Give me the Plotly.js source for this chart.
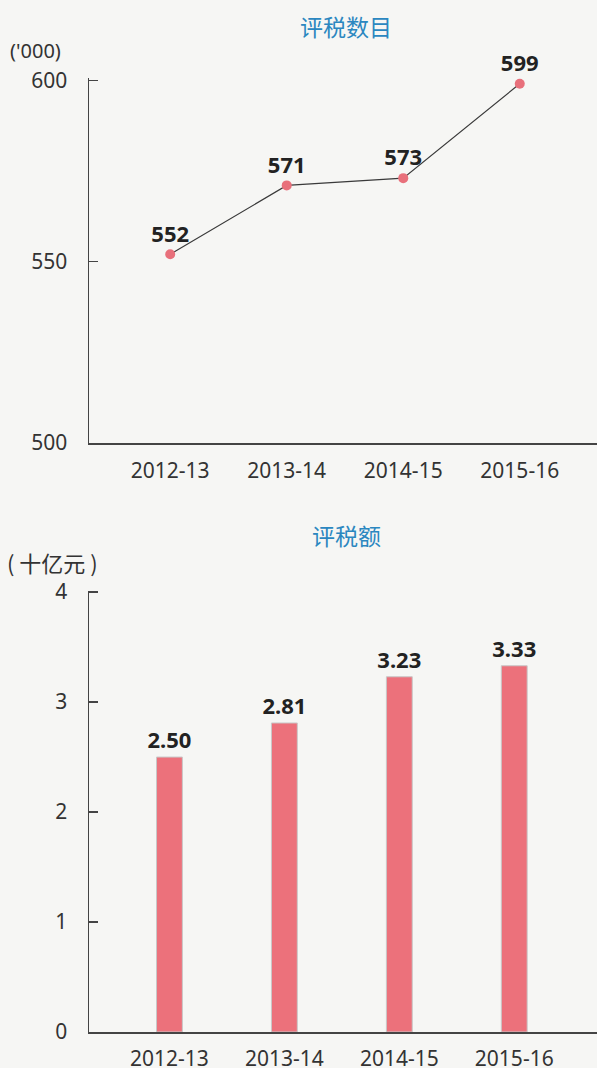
<!DOCTYPE html>
<html>
<head>
<meta charset="utf-8">
<script src="https://cdn.plot.ly/plotly-3.0.1.min.js"></script>
<style>html,body{margin:0;padding:0;background:#f6f6f4;}#chart{width:597px;height:1068px;}</style>
</head>
<body>
<div id="chart"></div>
<script>
const years = ["2012-13", "2013-14", "2014-15", "2015-16"];
const assessmentCount = [552, 571, 573, 599];   // '000
const assessedAmount = [2.50, 2.81, 3.23, 3.33]; // HK$ billion
const countLabels = ["552", "571", "573", "599"];
const amountLabels = ["2.50", "2.81", "3.23", "3.33"];

const W = 597, H = 1068;
const fontNum = "Noto Sans, Open Sans, sans-serif";
const fontCJK = "Noto Sans CJK SC, Noto Sans CJK TC, sans-serif";
const axisColor = "#444";

const traces = [
  {
    type: "scatter", mode: "lines+markers+text",
    x: years, y: assessmentCount, text: countLabels,
    textposition: "top center",
    textfont: {family: fontNum, size: 22, color: "#222", weight: "bold"},
    line: {color: "#3a3a3a", width: 1.2},
    marker: {color: "#e8707b", size: 10},
    xaxis: "x", yaxis: "y", cliponaxis: false, hoverinfo: "none"
  },
  {
    type: "bar",
    x: years, y: assessedAmount, text: amountLabels,
    textposition: "outside", textangle: 0, constraintext: "none",
    textfont: {family: fontNum, size: 22, color: "#222", weight: "bold"},
    marker: {color: "#ec717b", line: {color: "#c8c8c8", width: 1}},
    width: 0.225,
    xaxis: "x2", yaxis: "y2", cliponaxis: false, hoverinfo: "none"
  }
];

const commonY = {
  showgrid: false, zeroline: false, showline: true, linecolor: axisColor, linewidth: 1.5,
  ticks: "inside", ticklen: 9, tickcolor: axisColor, tickwidth: 1.2,
  tickfont: {family: fontNum, size: 21, color: "#333"}, ticklabelstandoff: 16,
  fixedrange: true
};
const commonX = {
  type: "category", showgrid: false, zeroline: false, showline: true, linecolor: axisColor, linewidth: 1.5,
  ticks: "", tickfont: {family: fontNum, size: 21, color: "#333"},
  fixedrange: true
};

const layout = {
  width: W, height: H,
  margin: {l: 0, r: 0, t: 0, b: 0},
  paper_bgcolor: "#f6f6f4", plot_bgcolor: "rgba(0,0,0,0)",
  showlegend: false,
  xaxis: Object.assign({}, commonX, {domain: [89 / W, 1], range: [-0.697, 3.663], anchor: "y", ticklabelstandoff: 8}),
  yaxis: Object.assign({}, commonY, {domain: [(H - 443) / H, (H - 78) / H], range: [500, 600.6], tickvals: [500, 550, 600], anchor: "x"}),
  xaxis2: Object.assign({}, commonX, {domain: [89 / W, 1], range: [-0.70, 3.72], anchor: "y2", ticklabelstandoff: 7}),
  yaxis2: Object.assign({}, commonY, {domain: [36 / H, (H - 591) / H], range: [0, 4.01], tickvals: [0, 1, 2, 3, 4], anchor: "x2"}),
  annotations: [
    {text: "评税数目", xref: "paper", yref: "paper", x: 346 / W, y: 1 - 26 / H, xanchor: "center", yanchor: "middle",
     showarrow: false, font: {family: fontCJK, size: 23, color: "#2b87c0"}},
    {text: "评税额", xref: "paper", yref: "paper", x: 346 / W, y: 1 - 535 / H, xanchor: "center", yanchor: "middle",
     showarrow: false, font: {family: fontCJK, size: 23, color: "#2b87c0"}},
    {text: "('000)", xref: "paper", yref: "paper", x: 8 / W, y: 1 - 51 / H, xanchor: "left", yanchor: "middle",
     showarrow: false, font: {family: fontNum, size: 20, color: "#333"}},
    {text: "( 十亿元 )", xref: "paper", yref: "paper", x: 5 / W, y: 1 - 562 / H, xanchor: "left", yanchor: "middle",
     showarrow: false, font: {family: fontCJK, size: 22, color: "#333"}}
  ]
};

Plotly.newPlot("chart", traces, layout, {displayModeBar: false, staticPlot: true});
</script>
</body>
</html>
